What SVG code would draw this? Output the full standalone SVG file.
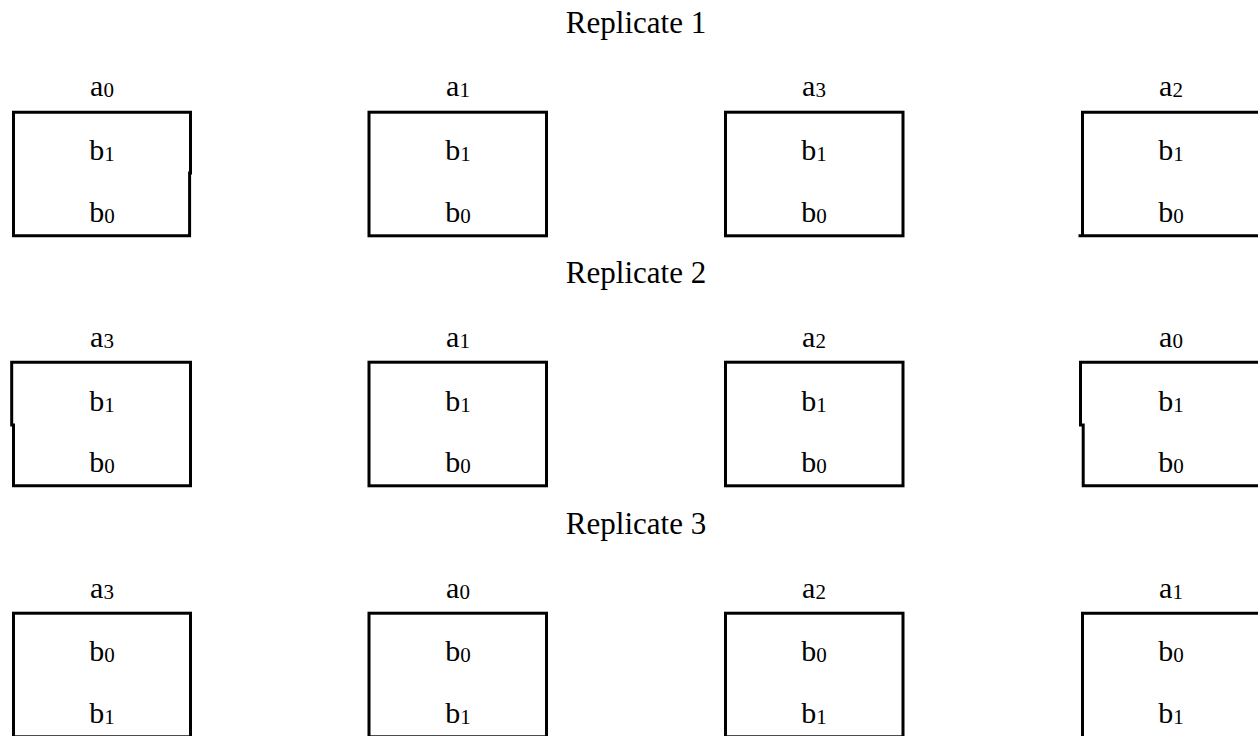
<svg xmlns="http://www.w3.org/2000/svg" width="1258" height="736" viewBox="0 0 1258 736">
  <style>
    .title { font-family: "Liberation Serif", "Times New Roman", serif; font-size: 31px; fill: #000; text-anchor: middle; }
    .lbl { font-family: "Liberation Serif", "Times New Roman", serif; font-size: 30px; fill: #000; text-anchor: middle; }
    .sub { font-size: 21px; }
    .box { fill: none; stroke: #000; stroke-width: 3; stroke-linecap: square; stroke-linejoin: miter; }
  </style>
  <rect width="1258" height="736" fill="#fff"/>

  <!-- Replicate 1 -->
  <text class="title" x="636" y="33">Replicate 1</text>
  <g id="r1-a0">
    <path class="box" d="M13.5 235.8 V112.2 H190.5 V173 M189.6 173 V235.8 H13.5"/>
    <text class="lbl" x="102" y="96">a<tspan class="sub" dy="1">0</tspan></text>
    <text class="lbl" x="102" y="160">b<tspan class="sub" dy="1">1</tspan></text>
    <text class="lbl" x="102" y="222">b<tspan class="sub" dy="1">0</tspan></text>
  </g>
  <g id="r1-a1">
    <rect class="box" x="369" y="112.2" width="177.5" height="123.6"/>
    <text class="lbl" x="458" y="96">a<tspan class="sub" dy="1">1</tspan></text>
    <text class="lbl" x="458" y="160">b<tspan class="sub" dy="1">1</tspan></text>
    <text class="lbl" x="458" y="222">b<tspan class="sub" dy="1">0</tspan></text>
  </g>
  <g id="r1-a3">
    <rect class="box" x="725.5" y="112.2" width="177.5" height="123.6"/>
    <text class="lbl" x="814" y="96">a<tspan class="sub" dy="1">3</tspan></text>
    <text class="lbl" x="814" y="160">b<tspan class="sub" dy="1">1</tspan></text>
    <text class="lbl" x="814" y="222">b<tspan class="sub" dy="1">0</tspan></text>
  </g>
  <g id="r1-a2">
    <path class="box" d="M1262 112.2 H1082.5 V235.8 M1080 235.8 H1262"/>
    <text class="lbl" x="1171" y="96">a<tspan class="sub" dy="1">2</tspan></text>
    <text class="lbl" x="1171" y="160">b<tspan class="sub" dy="1">1</tspan></text>
    <text class="lbl" x="1171" y="222">b<tspan class="sub" dy="1">0</tspan></text>
  </g>

  <!-- Replicate 2 -->
  <text class="title" x="636" y="283">Replicate 2</text>
  <g id="r2-a3">
    <path class="box" d="M11.7 425 V362.2 H190.5 V485.8 H13.5 V425"/>
    <text class="lbl" x="102" y="347">a<tspan class="sub" dy="1">3</tspan></text>
    <text class="lbl" x="102" y="411">b<tspan class="sub" dy="1">1</tspan></text>
    <text class="lbl" x="102" y="472">b<tspan class="sub" dy="1">0</tspan></text>
  </g>
  <g id="r2-a1">
    <rect class="box" x="369" y="362.2" width="177.5" height="123.6"/>
    <text class="lbl" x="458" y="347">a<tspan class="sub" dy="1">1</tspan></text>
    <text class="lbl" x="458" y="411">b<tspan class="sub" dy="1">1</tspan></text>
    <text class="lbl" x="458" y="472">b<tspan class="sub" dy="1">0</tspan></text>
  </g>
  <g id="r2-a2">
    <rect class="box" x="725.5" y="362.2" width="177.5" height="123.6"/>
    <text class="lbl" x="814" y="347">a<tspan class="sub" dy="1">2</tspan></text>
    <text class="lbl" x="814" y="411">b<tspan class="sub" dy="1">1</tspan></text>
    <text class="lbl" x="814" y="472">b<tspan class="sub" dy="1">0</tspan></text>
  </g>
  <g id="r2-a0">
    <path class="box" d="M1262 362.2 H1080.5 V425 M1083.2 425 V485.8 H1262"/>
    <text class="lbl" x="1171" y="347">a<tspan class="sub" dy="1">0</tspan></text>
    <text class="lbl" x="1171" y="411">b<tspan class="sub" dy="1">1</tspan></text>
    <text class="lbl" x="1171" y="472">b<tspan class="sub" dy="1">0</tspan></text>
  </g>

  <!-- Replicate 3 -->
  <text class="title" x="636" y="534">Replicate 3</text>
  <g id="r3-a3">
    <rect class="box" x="13.5" y="613.2" width="177" height="123.6"/>
    <text class="lbl" x="102" y="598">a<tspan class="sub" dy="1">3</tspan></text>
    <text class="lbl" x="102" y="661">b<tspan class="sub" dy="1">0</tspan></text>
    <text class="lbl" x="102" y="723">b<tspan class="sub" dy="1">1</tspan></text>
  </g>
  <g id="r3-a0">
    <rect class="box" x="369" y="613.2" width="177.5" height="123.6"/>
    <text class="lbl" x="458" y="598">a<tspan class="sub" dy="1">0</tspan></text>
    <text class="lbl" x="458" y="661">b<tspan class="sub" dy="1">0</tspan></text>
    <text class="lbl" x="458" y="723">b<tspan class="sub" dy="1">1</tspan></text>
  </g>
  <g id="r3-a2">
    <rect class="box" x="725.5" y="613.2" width="177.5" height="123.6"/>
    <text class="lbl" x="814" y="598">a<tspan class="sub" dy="1">2</tspan></text>
    <text class="lbl" x="814" y="661">b<tspan class="sub" dy="1">0</tspan></text>
    <text class="lbl" x="814" y="723">b<tspan class="sub" dy="1">1</tspan></text>
  </g>
  <g id="r3-a1">
    <path class="box" d="M1262 613.2 H1082.5 V740"/>
    <text class="lbl" x="1171" y="598">a<tspan class="sub" dy="1">1</tspan></text>
    <text class="lbl" x="1171" y="661">b<tspan class="sub" dy="1">0</tspan></text>
    <text class="lbl" x="1171" y="723">b<tspan class="sub" dy="1">1</tspan></text>
  </g>

  <!-- no connectors in this layout -->
  <g id="connectors"/>
</svg>
